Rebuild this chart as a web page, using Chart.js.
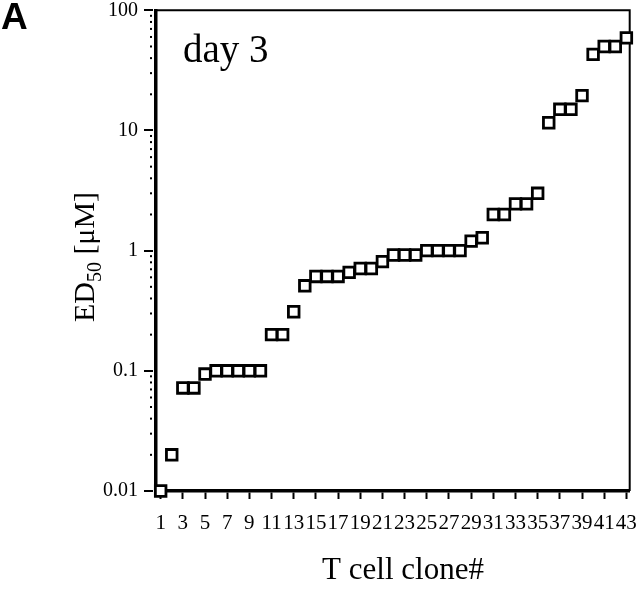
<!DOCTYPE html>
<html>
<head>
<meta charset="utf-8">
<script src="https://cdn.jsdelivr.net/npm/chart.js@4.4.0/dist/chart.umd.min.js"></script>
<style>
  html, body { margin: 0; padding: 0; background: #fff; }
</style>
</head>
<body>
<canvas id="chart" width="640" height="595"></canvas>
<script>
// clone numbers and their ED50 values (uM)
const clones = [1, 2, 3, 4, 5, 6, 7, 8, 9, 10, 11, 12, 13, 14, 15, 16, 17, 18, 19, 20, 21, 22,
  23, 24, 25, 26, 27, 28, 29, 30, 31, 32, 33, 34, 35, 36, 37, 38, 39, 40, 41, 42, 43];
const ed50 = [0.01, 0.02, 0.072, 0.072, 0.094, 0.1, 0.1, 0.1, 0.1, 0.1, 0.2, 0.2, 0.31, 0.51,
  0.61, 0.61, 0.61, 0.66, 0.71, 0.71, 0.81, 0.92, 0.92, 0.92, 1.0, 1.0, 1.0, 1.0, 1.2, 1.28,
  2.0, 2.0, 2.45, 2.45, 3.0, 11.6, 15, 15, 19.5, 43, 50, 50, 59];
const xTickLabels = [1, 3, 5, 7, 9, 11, 13, 15, 17, 19, 21, 23, 25, 27, 29, 31, 33, 35, 37, 39, 41, 43];
const yTickLabels = [0.01, 0.1, 1, 10, 100];
const yMinorTicks = [2, 3, 4, 5, 6, 7, 8, 9];

const serif = "'Liberation Serif', 'Times New Roman', serif";

// frame, y tick marks and the texts around the plot
const decorPlugin = {
  id: 'decor',
  beforeDatasetsDraw(chart) {
    const { ctx, chartArea: a } = chart;
    const y = chart.scales.y;
    ctx.save();
    ctx.strokeStyle = '#000';
    ctx.lineWidth = 2;
    ctx.beginPath();
    ctx.moveTo(a.left, a.top);
    ctx.lineTo(a.right, a.top);
    ctx.lineTo(a.right, a.bottom);
    ctx.stroke();

    // major ticks: short dash left of the axis
    yTickLabels.forEach(v => {
      const py = Math.round(y.getPixelForValue(v));
      ctx.beginPath();
      ctx.moveTo(a.left - 12, py);
      ctx.lineTo(a.left - 3, py);
      ctx.stroke();
    });
    // minor ticks: dots
    ctx.fillStyle = '#000';
    for (let d = 0; d < yTickLabels.length - 1; d++) {
      yMinorTicks.forEach(m => {
        const py = y.getPixelForValue(yTickLabels[d] * m);
        ctx.fillRect(a.left - 6, py - 1, 2, 2);
      });
    }
    ctx.restore();
  },
  afterDraw(chart) {
    const { ctx } = chart;
    ctx.save();
    ctx.fillStyle = '#000';

    ctx.font = "bold 37px 'Liberation Sans', Arial, sans-serif";
    ctx.textAlign = 'left';
    ctx.textBaseline = 'alphabetic';
    ctx.fillText('A', 1, 29);

    ctx.font = '39px ' + serif;
    ctx.fillText('day 3', 183, 62);

    ctx.font = '31px ' + serif;
    ctx.textAlign = 'center';
    ctx.fillText('T cell clone#', 403, 579);

    // y title with subscript
    ctx.translate(94, 257);
    ctx.rotate(-Math.PI / 2);
    const big = '30px ' + serif;
    const small = '20px ' + serif;
    ctx.textAlign = 'left';
    ctx.font = big;
    const w1 = ctx.measureText('ED').width;
    const w3 = ctx.measureText(' [μM]').width;
    ctx.font = small;
    const w2 = ctx.measureText('50').width;
    const x0 = -(w1 + w2 + w3) / 2;
    ctx.font = big;
    ctx.fillText('ED', x0, 0);
    ctx.font = small;
    ctx.fillText('50', x0 + w1, 7);
    ctx.font = big;
    ctx.fillText(' [μM]', x0 + w1 + w2, 0);
    ctx.restore();
  }
};

const ctx = document.getElementById('chart').getContext('2d');
new Chart(ctx, {
  type: 'scatter',
  data: {
    datasets: [{
      data: clones.map((c, i) => ({ x: c, y: ed50[i] })),
      pointStyle: 'rect',
      radius: 7.5,
      borderColor: '#000',
      borderWidth: 2.8,
      backgroundColor: '#fff',
      clip: false
    }]
  },
  options: {
    responsive: false,
    animation: false,
    layout: { padding: { top: 7, right: 5, left: 0, bottom: 0 } },
    plugins: { legend: { display: false }, tooltip: { enabled: false } },
    scales: {
      x: {
        type: 'linear',
        min: 0.58,
        max: 43.3,
        afterBuildTicks: s => { s.ticks = xTickLabels.map(v => ({ value: v })); },
        afterFit: s => { s.height = 104; s.paddingLeft = 0; s.paddingRight = 0; },
        border: { color: '#000', width: 3.5 },
        grid: { drawOnChartArea: false, drawTicks: true, tickLength: 8, tickColor: '#000', tickWidth: 2 },
        ticks: {
          autoSkip: false,
          maxRotation: 0,
          color: '#000',
          padding: 12,
          font: { family: serif, size: 21 },
          callback: v => String(v)
        }
      },
      y: {
        type: 'logarithmic',
        min: 0.01,
        max: 100,
        afterBuildTicks: s => { s.ticks = yTickLabels.map(v => ({ value: v })); },
        afterFit: s => { s.width = 156; s.paddingTop = 0; s.paddingBottom = 0; },
        border: { color: '#000', width: 3.5 },
        grid: { drawOnChartArea: false, drawTicks: false },
        ticks: {
          color: '#000',
          padding: 18,
          font: { family: serif, size: 20 },
          callback: v => String(v)
        }
      }
    }
  },
  plugins: [decorPlugin]
});
</script>
</body>
</html>
